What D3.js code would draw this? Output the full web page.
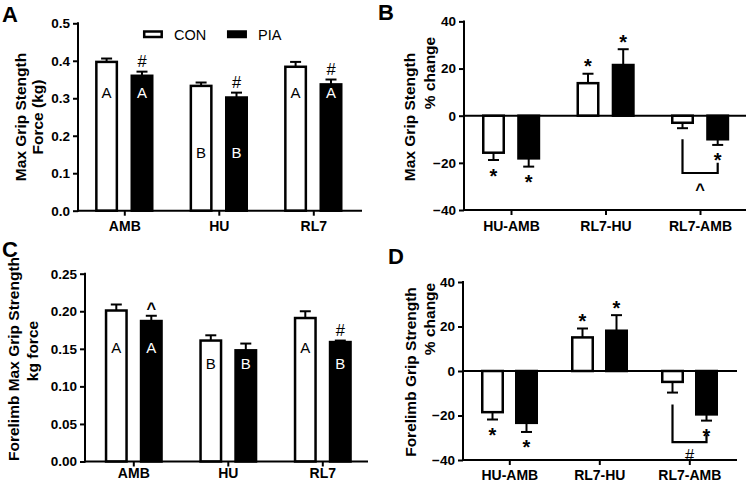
<!DOCTYPE html>
<html>
<head>
<meta charset="utf-8">
<script src="https://cdn.jsdelivr.net/npm/d3@7"></script>
<style>
  html, body { margin: 0; padding: 0; background: #fff; }
  svg { display: block; font-family: "Liberation Sans", Arial, Helvetica, sans-serif; }
</style>
</head>
<body>
<svg id="chart" width="750" height="484"></svg>
<script>
// ---------------- DATA ----------------
const catsAbs = ["AMB", "HU", "RL7"];
const catsPct = ["HU-AMB", "RL7-HU", "RL7-AMB"];
const seriesNames = ["CON", "PIA"];

// Panel A: Max grip strength force (kg)
const gripCON = [0.397, 0.333, 0.384];
const gripCONErr = [0.009, 0.009, 0.013];
const gripPIA = [0.360, 0.302, 0.337];
const gripPIAErr = [0.011, 0.013, 0.013];
const gripTicks = [0, 0.1, 0.2, 0.3, 0.4, 0.5];
const gripLettersCON = ["A", "B", "A"];
const gripLettersPIA = ["A", "B", "A"];
const gripSigCON = ["", "", ""];
const gripSigPIA = ["#", "#", "#"];

// Panel B: Max grip strength % change
const gripPctCON = [-15.7, 13.8, -3.0];
const gripPctCONErr = [3.1, 4.0, 2.3];
const gripPctPIA = [-18.1, 21.5, -10.0];
const gripPctPIAErr = [3.5, 6.7, 2.4];
const pctTicks = [-40, -20, 0, 20, 40];
const gripPctSigCON = ["*", "*", ""];
const gripPctSigPIA = ["*", "*", "*"];
const gripPctBracket = { cat: "RL7-AMB", left: -10, bottom: -24.3, right: -20, label: "^" };

// Panel C: Forelimb max grip strength (kg force)
const foreCON = [0.201, 0.161, 0.191];
const foreCONErr = [0.008, 0.007, 0.009];
const forePIA = [0.187, 0.148, 0.159];
const forePIAErr = [0.007, 0.009, 0.002];
const foreTicks = [0, 0.05, 0.10, 0.15, 0.20, 0.25];
const foreLettersCON = ["A", "B", "A"];
const foreLettersPIA = ["A", "B", "B"];
const foreSigCON = ["", "", ""];
const foreSigPIA = ["^", "", "#"];

// Panel D: Forelimb grip strength % change
const forePctCON = [-18.5, 15.1, -4.9];
const forePctCONErr = [3.3, 4.0, 4.8];
const forePctPIA = [-23.3, 18.1, -19.5];
const forePctPIAErr = [4.1, 7.0, 2.8];
const forePctSigCON = ["*", "*", ""];
const forePctSigPIA = ["*", "*", "*"];
const forePctBracket = { cat: "RL7-AMB", left: -15, bottom: -32, right: -28.5, label: "#" };

// ---------------- DRAW ----------------
const svg = d3.select("#chart");
const FONT = "'Liberation Sans', Arial, Helvetica, sans-serif";

function drawPanel(cfg) {
  const g = svg.append("g");
  const y = d3.scaleLinear().domain(cfg.domain).range([cfg.yBottom, cfg.yTop]);
  const x = d3.scalePoint().domain(cfg.cats).range([cfg.c0, cfg.c2]);
  const off = { CON: cfg.offL, PIA: cfg.offR };
  const bw = 20.5;

  const rows = [];
  cfg.cats.forEach((c, i) => {
    rows.push({ cat: c, s: "CON", v: cfg.con[i], e: cfg.conErr[i], letter: cfg.lettersCON ? cfg.lettersCON[i] : "", sig: cfg.sigCON[i] });
    rows.push({ cat: c, s: "PIA", v: cfg.pia[i], e: cfg.piaErr[i], letter: cfg.lettersPIA ? cfg.lettersPIA[i] : "", sig: cfg.sigPIA[i] });
  });
  const cx = d => x(d.cat) + off[d.s];

  // bars
  g.selectAll("rect.bar").data(rows).enter().append("rect")
    .attr("x", d => cx(d) - bw / 2)
    .attr("y", d => Math.min(y(d.v), y(0)))
    .attr("width", bw)
    .attr("height", d => Math.abs(y(d.v) - y(0)))
    .attr("fill", d => d.s === "CON" ? "#fff" : "#000")
    .attr("stroke", "#000").attr("stroke-width", 2.5);

  // error bars (one-sided, away from zero)
  const errEnd = d => d.v >= 0 ? d.v + d.e : d.v - d.e;
  g.selectAll("line.err").data(rows).enter().append("line")
    .attr("x1", cx).attr("x2", cx)
    .attr("y1", d => y(d.v)).attr("y2", d => y(errEnd(d)))
    .attr("stroke", "#000").attr("stroke-width", 2);
  g.selectAll("line.cap").data(rows).enter().append("line")
    .attr("x1", d => cx(d) - 5.5).attr("x2", d => cx(d) + 5.5)
    .attr("y1", d => y(errEnd(d))).attr("y2", d => y(errEnd(d)))
    .attr("stroke", "#000").attr("stroke-width", 2);

  // y axis
  const yAxis = d3.axisLeft(y).tickValues(cfg.ticks).tickFormat(d3.format(cfg.fmt)).tickSize(5).tickSizeOuter(0).tickPadding(3);
  const ya = g.append("g").attr("transform", `translate(${cfg.x0},0)`).call(yAxis);
  ya.select(".domain").attr("stroke-width", 2).attr("d", `M0,${y(cfg.domain[1]) - 1}V${y(cfg.domain[0]) + 1}`);
  ya.selectAll(".tick line").attr("stroke-width", 2);
  ya.selectAll(".tick text").attr("font-family", FONT).attr("font-size", 13.5).attr("font-weight", "bold").attr("fill", "#000");

  // x axis (bottom)
  const xAxis = d3.axisBottom(x).tickSize(5).tickSizeOuter(0);
  const xa = g.append("g").attr("transform", `translate(0,${cfg.yBottom})`).call(xAxis);
  xa.select(".domain").attr("stroke-width", 2).attr("d", `M${cfg.x0 - 1},0H${cfg.x1}`);
  xa.selectAll(".tick line").attr("stroke-width", 2);
  xa.selectAll(".tick text").attr("font-family", FONT).attr("font-size", 14).attr("font-weight", "bold").attr("fill", "#000")
    .attr("y", cfg.labelBase).attr("dy", 0);

  // zero line for % change panels
  if (cfg.domain[0] < 0) {
    g.append("line").attr("x1", cfg.x0).attr("x2", cfg.x1)
      .attr("y1", y(0)).attr("y2", y(0)).attr("stroke", "#000").attr("stroke-width", 2);
  }

  // letters inside bars
  if (cfg.letterLevels) {
    g.selectAll("text.letter").data(rows.filter(d => d.letter)).enter().append("text")
      .attr("x", cx).attr("y", d => y(cfg.letterLevels[d.letter]))
      .attr("dy", "0.36em").attr("text-anchor", "middle")
      .attr("font-family", FONT).attr("font-size", 15)
      .attr("fill", d => d.s === "CON" ? "#000" : "#fff")
      .text(d => d.letter);
  }

  // significance symbols
  const sigRows = rows.filter(d => d.sig);
  g.selectAll("text.sig").data(sigRows).enter().append("text")
    .attr("x", cx)
    .attr("y", d => {
      const ye = y(errEnd(d));
      const c = d.v >= 0 ? ye - 11 : ye + 12;
      if (d.sig === "*") return c + 10.5;
      if (d.sig === "#") return c + 6;
      return c + 9; // ^
    })
    .attr("text-anchor", "middle")
    .attr("font-family", FONT)
    .attr("font-size", d => d.sig === "*" ? 20 : 16.5)
    .attr("font-weight", d => d.sig === "#" ? "normal" : "bold")
    .text(d => d.sig);

  // bracket
  if (cfg.bracket) {
    const b = cfg.bracket;
    const xl = x(b.cat) + off.CON, xr = x(b.cat) + off.PIA;
    g.append("path")
      .attr("d", `M${xl},${y(b.left)}V${y(b.bottom)}H${xr}V${y(b.right)}`)
      .attr("fill", "none").attr("stroke", "#000").attr("stroke-width", 2.2);
    const lx = (xl + xr) / 2, ly = y(b.bottom) + 13;
    g.append("text").attr("x", lx)
      .attr("y", b.label === "^" ? ly + 9.5 : ly + 6)
      .attr("text-anchor", "middle").attr("font-family", FONT)
      .attr("font-size", 16.5).attr("font-weight", b.label === "^" ? "bold" : "normal")
      .text(b.label);
  }

  // y title
  cfg.titles.forEach(t => {
    svg.append("text")
      .attr("transform", `translate(${t.x},${t.y}) rotate(-90)`)
      .attr("text-anchor", "middle").attr("dominant-baseline", "central")
      .attr("font-family", FONT).attr("font-size", 15.5).attr("font-weight", "bold")
      .text(t.text);
  });

  // panel letter
  svg.append("text").attr("x", cfg.letter.x).attr("y", cfg.letter.y)
    .attr("font-family", FONT).attr("font-size", 22).attr("font-weight", "bold")
    .text(cfg.letter.t);
}

drawPanel({
  cats: catsAbs, con: gripCON, conErr: gripCONErr, pia: gripPIA, piaErr: gripPIAErr,
  domain: [0, 0.5], ticks: gripTicks, fmt: ".1f",
  x0: 78, x1: 362, yTop: 23.3, yBottom: 210.7, c0: 124.3, c2: 313.3, offL: -17.7, offR: 17.7, labelBase: 20.5,
  lettersCON: gripLettersCON, lettersPIA: gripLettersPIA, letterLevels: { A: 0.314, B: 0.154 },
  sigCON: gripSigCON, sigPIA: gripSigPIA,
  titles: [{ text: "Max Grip Stength", x: 20, y: 117 }, { text: "Force (kg)", x: 37.5, y: 117 }],
  letter: { t: "A", x: 2, y: 22 }
});

drawPanel({
  cats: catsPct, con: gripPctCON, conErr: gripPctCONErr, pia: gripPctPIA, piaErr: gripPctPIAErr,
  domain: [-40, 40], ticks: pctTicks, fmt: "d",
  x0: 464, x1: 746, yTop: 21.4, yBottom: 210, c0: 511, c2: 700, offL: -17.5, offR: 17.7, labelBase: 20.5,
  sigCON: gripPctSigCON, sigPIA: gripPctSigPIA, bracket: gripPctBracket,
  titles: [{ text: "Max Grip Stength", x: 409, y: 117 }, { text: "% change", x: 429, y: 73 }],
  letter: { t: "B", x: 378, y: 20 }
});

drawPanel({
  cats: catsAbs, con: foreCON, conErr: foreCONErr, pia: forePIA, piaErr: forePIAErr,
  domain: [0, 0.25], ticks: foreTicks, fmt: ".2f",
  x0: 85, x1: 368, yTop: 273.7, yBottom: 461.5, c0: 133.3, c2: 322.3, offL: -17, offR: 18, labelBase: 16.5,
  lettersCON: foreLettersCON, lettersPIA: foreLettersPIA, letterLevels: { A: 0.151, B: 0.130 },
  sigCON: foreSigCON, sigPIA: foreSigPIA,
  titles: [{ text: "Forelimb Max Grip Strength", x: 13, y: 359 }, { text: "kg force", x: 32, y: 351 }],
  letter: { t: "C", x: 2, y: 257 }
});

drawPanel({
  cats: catsPct, con: forePctCON, conErr: forePctCONErr, pia: forePctPIA, piaErr: forePctPIAErr,
  domain: [-40, 40], ticks: pctTicks, fmt: "d",
  x0: 463, x1: 737, yTop: 282, yBottom: 460, c0: 509.3, c2: 689.3, offL: -16.8, offR: 17.2, labelBase: 19.5,
  sigCON: forePctSigCON, sigPIA: forePctSigPIA, bracket: forePctBracket,
  titles: [{ text: "Forelimb Grip Strength", x: 410.5, y: 372 }, { text: "% change", x: 429, y: 319 }],
  letter: { t: "D", x: 388, y: 264 }
});

// legend (panel A)
const leg = svg.append("g");
const legItems = seriesNames.map((s, i) => ({ s, x: [143, 227][i] }));
leg.selectAll("rect").data(legItems).enter().append("rect")
  .attr("x", d => d.x + 1.2).attr("y", 31.5).attr("width", 17.5).attr("height", 5.5)
  .attr("fill", d => d.s === "CON" ? "#fff" : "#000").attr("stroke", "#000").attr("stroke-width", 2.5);
leg.selectAll("text").data(legItems).enter().append("text")
  .attr("x", d => d.x + 31).attr("y", 34.5).attr("dy", "0.36em")
  .attr("font-family", FONT).attr("font-size", 14.5).text(d => d.s);
</script>
</body>
</html>
